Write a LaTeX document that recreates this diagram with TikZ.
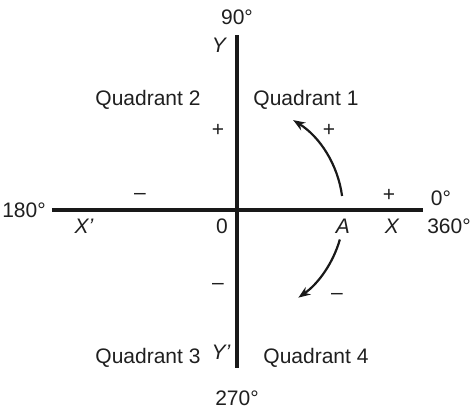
\documentclass[tikz,border=0pt]{standalone}
\usepackage{fontspec}
\setmainfont{Liberation Sans}
\usetikzlibrary{arrows.meta}
\begin{document}
\begin{tikzpicture}[x=1pt,y=1pt,
  lbl/.style={inner sep=0pt, text=black!88, font=\fontsize{21}{24}\selectfont},
  ilbl/.style={lbl, font=\fontsize{21}{24}\selectfont\itshape},
  axis/.style={line width=3.3pt, black!90},
  arcarrow/.style={line width=2.2pt, black!90, -{Stealth[length=12pt,width=9pt]}}]
\useasboundingbox (-237,-207) rectangle (237,210);
\coordinate (O) at (0,0);
\coordinate (xl) at (-185,0);
\coordinate (xr) at (186,0);
\coordinate (yt) at (0,175);
\coordinate (yb) at (0,-158);
\draw[axis] (xl) -- (xr);
\draw[axis] (yb) -- (yt);
% labels
\node[lbl] (n90) at (0,193) {90°};
\node[ilbl] (nY) at (-18,165) {Y};
\node[ilbl] (nYp) at (-16,-142) {Y’};
\node[lbl] (n270) at (0,-188) {270°};
\node[lbl] (n180) at (-213,0) {180°};
\node[ilbl] (nXp) at (-153,-16) {X’};
\node[lbl] (n0) at (-15,-16) {0};
\node[ilbl] (nA) at (106,-16) {A};
\node[ilbl] (nX) at (155,-16) {X};
\node[lbl] (n0d) at (204,12) {0°};
\node[lbl] (n360) at (212,-16) {360°};
\node[lbl] (mL) at (-97,14) {–};
\node[lbl] (pR) at (152,15) {+};
\node[lbl] (pU) at (-19,80) {+};
\node[lbl] (mD) at (-19,-76) {–};
\node[lbl] (q2) at (-89,110) {Quadrant 2};
\node[lbl] (q1) at (69,110) {Quadrant 1};
\node[lbl] (q3) at (-89,-148) {Quadrant 3};
\node[lbl] (q4) at (79,-148) {Quadrant 4};
\node[lbl] (pA) at (92,80) {+};
\node[lbl] (mA) at (100,-86) {–};
% arcs around origin
\draw[arcarrow] ([shift={(7.6:106)}]O) arc[start angle=7.6, end angle=58, radius=106];
\draw[arcarrow] ([shift={(-16:107)}]O) arc[start angle=-16, end angle=-55, radius=107];
\end{tikzpicture}
\end{document}
